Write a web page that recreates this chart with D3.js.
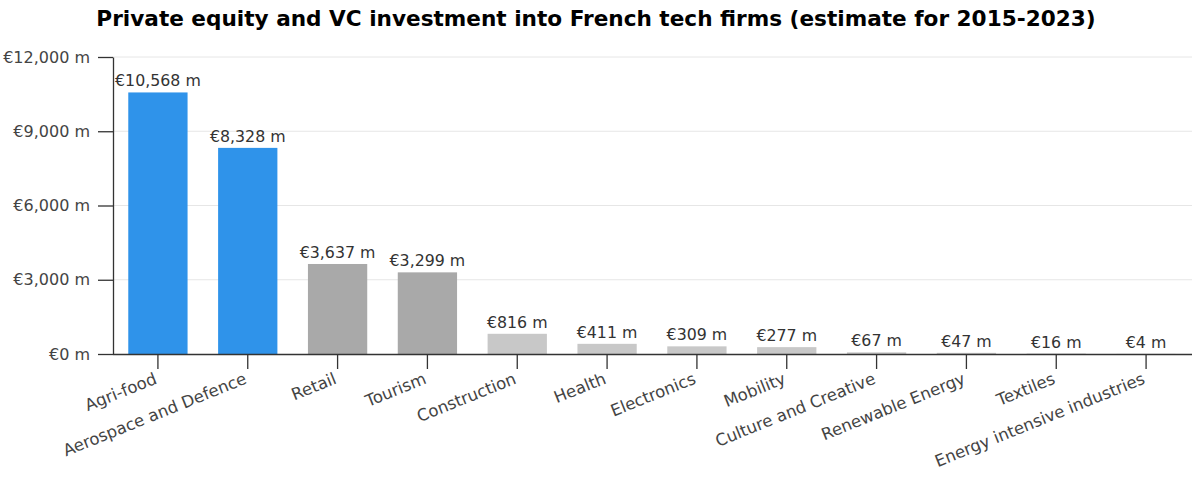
<!DOCTYPE html>
<html>
<head>
<meta charset="utf-8">
<script src="https://cdn.jsdelivr.net/npm/d3@7"></script>
<style>
  body { margin: 0; background: #fff; }
  svg text { font-family: "DejaVu Sans", Verdana, sans-serif; }
</style>
</head>
<body>
<div class="chart-container"></div>
<script>
const width = 1192;
const height = 477;
const margin = { top: 57, right: 1, bottom: 123, left: 113 };

// sectors and estimated investment (EUR millions)
const sectors = ["Agri-food", "Aerospace and Defence", "Retail", "Tourism", "Construction", "Health",
  "Electronics", "Mobility", "Culture and Creative", "Renewable Energy", "Textiles", "Energy intensive industries"];
const investment = [10568, 8328, 3637, 3299, 816, 411, 309, 277, 67, 47, 16, 4];
const tier = ["top", "top", "mid", "mid", "low", "low", "low", "low", "low", "low", "low", "low"];
const yTicks = [0, 3000, 6000, 9000, 12000];

const tierColor = { top: "#2f93ea", mid: "#a9a9a9", low: "#c8c8c8" };
const fmt = d3.format(",");
const euro = v => `€${fmt(v)} m`;

const svg = d3.select(".chart-container").append("svg")
  .attr("width", width)
  .attr("height", height);

svg.append("text")
  .attr("x", width / 2)
  .attr("y", 26)
  .attr("text-anchor", "middle")
  .style("font-size", "21.6px")
  .style("font-weight", "bold")
  .attr("fill", "#000")
  .text("Private equity and VC investment into French tech firms (estimate for 2015-2023)");

const x = d3.scaleBand()
  .domain(sectors)
  .range([margin.left, width - margin.right])
  .paddingInner(0.34)
  .paddingOuter(0.17);

const y = d3.scaleLinear()
  .domain([0, 12000])
  .range([height - margin.bottom, margin.top]);

// gridlines
svg.append("g")
  .selectAll("line")
  .data(yTicks.slice(1))
  .join("line")
  .attr("x1", margin.left)
  .attr("x2", width)
  .attr("y1", d => y(d))
  .attr("y2", d => y(d))
  .attr("stroke", "#e6e6e6");

// bars
svg.append("g")
  .selectAll("rect")
  .data(sectors)
  .join("rect")
  .attr("x", d => x(d))
  .attr("y", (d, i) => y(investment[i]))
  .attr("width", x.bandwidth())
  .attr("height", (d, i) => y(0) - y(investment[i]))
  .attr("fill", (d, i) => tierColor[tier[i]]);

// value labels
svg.append("g")
  .selectAll("text")
  .data(sectors)
  .join("text")
  .attr("x", d => x(d) + x.bandwidth() / 2)
  .attr("y", (d, i) => y(investment[i]) - 6)
  .attr("text-anchor", "middle")
  .style("font-size", "15.8px")
  .attr("fill", "#333")
  .text((d, i) => euro(investment[i]));

// y axis
const yAxis = svg.append("g")
  .attr("transform", `translate(${margin.left},0)`)
  .call(d3.axisLeft(y).tickValues(yTicks).tickSize(15).tickPadding(8).tickFormat(euro).tickSizeOuter(0));
yAxis.selectAll("text").style("font-size", "16px").attr("fill", "#444");
yAxis.selectAll("line, path").attr("stroke", "#333").attr("stroke-width", 1.3);

// x axis
const xAxis = svg.append("g")
  .attr("transform", `translate(0,${y(0)})`)
  .call(d3.axisBottom(x).tickSize(15).tickSizeOuter(0));
xAxis.select(".domain").attr("d", `M${margin.left},0.5H${width}`);
xAxis.selectAll("line, path").attr("stroke", "#333").attr("stroke-width", 1.3);
xAxis.selectAll("text")
  .style("font-size", "16.5px")
  .attr("fill", "#444")
  .attr("text-anchor", "end")
  .attr("y", 0)
  .attr("dy", 0)
  .attr("transform", "translate(0,29) rotate(-22)");
</script>
</body>
</html>
